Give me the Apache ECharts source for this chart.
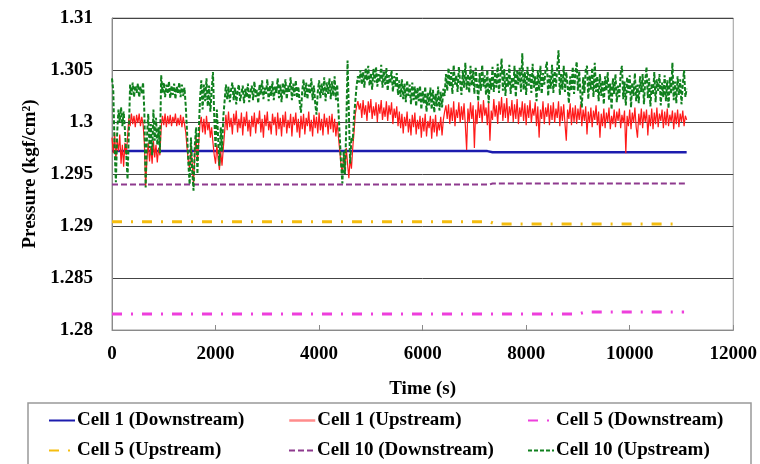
<!DOCTYPE html>
<html>
<head>
<meta charset="utf-8">
<script src="https://cdn.jsdelivr.net/npm/echarts@6/dist/echarts.min.js"></script>
<style>
  html, body { margin: 0; padding: 0; background: #fff; }
  #chart { width: 760px; height: 464px; }
</style>
</head>
<body>
<div id="chart"></div>
<script>
// noisy upstream readings, one sample every 25 s from t = 0 to 11100 s
const sampleStep = 25;

const cell10Up = [
  // 0 - 2175
  1.3042, 1.3030, 1.2975, 1.2942, 1.2990, 1.3012, 1.3000, 1.3014, 1.2996, 1.3010,
  1.2992, 1.2970, 1.2945, 1.2990, 1.3036, 1.3026, 1.3038, 1.3024, 1.3035, 1.3028,
  1.3037, 1.3024, 1.3034, 1.3027, 1.3038, 1.3010, 1.2937, 1.2985, 1.3008, 1.2975,
  1.2998, 1.2968, 1.3012, 1.2982, 1.3004, 1.2978, 1.2995, 1.2970, 1.3045, 1.3028,
  1.3038, 1.3024, 1.3036, 1.3027, 1.3039, 1.3023, 1.3035, 1.3026, 1.3037, 1.3022,
  1.3034, 1.3028, 1.3038, 1.3024, 1.3036, 1.3025, 1.3033, 1.3015, 1.2990, 1.2960,
  1.2940, 1.2985, 1.2952, 1.2934, 1.2978, 1.2995, 1.2950, 1.2990, 1.3022, 1.3040,
  1.3012, 1.3036, 1.3020, 1.3042, 1.3015, 1.3035, 1.3010, 1.3030, 1.3048, 1.3005,
  1.2975, 1.3012, 1.2985, 1.2958, 1.2995, 1.2972, 1.3005, 1.3020,
  // 2200 - 4400
  1.3036, 1.3022, 1.3034, 1.3019, 1.3031, 1.3038, 1.3021, 1.3033, 1.3017, 1.3030,
  1.3036, 1.3020, 1.3028, 1.3035, 1.3018, 1.3032, 1.3024, 1.3037, 1.3019, 1.3029,
  1.3035, 1.3021, 1.3039, 1.3024, 1.3031, 1.3018, 1.3036, 1.3026, 1.3040, 1.3022,
  1.3033, 1.3027, 1.3041, 1.3020, 1.3035, 1.3025, 1.3039, 1.3021, 1.3034, 1.3028,
  1.3042, 1.3023, 1.3036, 1.3019, 1.3038, 1.3026, 1.3041, 1.3022, 1.3035, 1.3029,
  1.3043, 1.3021, 1.3037, 1.3025, 1.3040, 1.3023, 1.3034, 1.3019, 1.3009, 1.3030,
  1.3041, 1.3024, 1.3038, 1.3022, 1.3036, 1.3027, 1.3042, 1.3021, 1.3035, 1.3018,
  1.3007, 1.3029, 1.3040, 1.3023, 1.3037, 1.3026, 1.3043, 1.3020, 1.3038, 1.3027,
  1.3042, 1.3022, 1.3039, 1.3025, 1.3044, 1.3021, 1.3036, 1.3010, 1.2985,
  // 4425 - 4775
  1.2960, 1.2941, 1.2972, 1.2950, 1.2995, 1.3059, 1.3010, 1.2960, 1.2985, 1.2982,
  1.3005, 1.3020, 1.3035, 1.3044, 1.3038,
  // 4800 - 5550
  1.3050, 1.3036, 1.3048, 1.3033, 1.3052, 1.3040, 1.3054, 1.3035, 1.3047, 1.3031,
  1.3051, 1.3038, 1.3053, 1.3034, 1.3046, 1.3039, 1.3055, 1.3033, 1.3049, 1.3036,
  1.3052, 1.3030, 1.3045, 1.3037, 1.3050, 1.3029, 1.3044, 1.3034, 1.3047, 1.3026,
  1.3040,
  // 5575 - 6450
  1.3024, 1.3041, 1.3022, 1.3037, 1.3019, 1.3040, 1.3025, 1.3036, 1.3017, 1.3038,
  1.3021, 1.3034, 1.3015, 1.3033, 1.3020, 1.3035, 1.3012, 1.3030, 1.3018, 1.3034,
  1.3010, 1.3028, 1.3016, 1.3033, 1.3012, 1.3031, 1.3009, 1.3027, 1.3015, 1.3034,
  1.3011, 1.3029, 1.3014, 1.3032, 1.3025, 1.3046,
  // 6475 - 9400
  1.3030, 1.3052, 1.3034, 1.3048, 1.3027, 1.3055, 1.3036, 1.3045, 1.3029, 1.3053,
  1.3038, 1.3026, 1.3050, 1.3033, 1.3057, 1.3031, 1.3046, 1.3028, 1.3054, 1.3035,
  1.3049, 1.3027, 1.3052, 1.3036, 1.3020, 1.3047, 1.3030, 1.3055, 1.3034, 1.3045,
  1.3026, 1.3050, 1.3018, 1.3042, 1.3031, 1.3053, 1.3029, 1.3048, 1.3033, 1.3056,
  1.3028, 1.3044, 1.3061, 1.3030, 1.3051, 1.3025, 1.3047, 1.3034, 1.3055, 1.3027,
  1.3043, 1.3032, 1.3054, 1.3024, 1.3049, 1.3036, 1.3052, 1.3029, 1.3066, 1.3031,
  1.3048, 1.3026, 1.3053, 1.3035, 1.3046, 1.3028, 1.3056, 1.3033, 1.3044, 1.3020,
  1.3050, 1.3030, 1.3054, 1.3027, 1.3047, 1.3036, 1.3051, 1.3058, 1.3025, 1.3045,
  1.3032, 1.3055, 1.3028, 1.3049, 1.3034, 1.3052, 1.3069, 1.3026, 1.3046, 1.3031,
  1.3054, 1.3029, 1.3048, 1.3035, 1.3018, 1.3044, 1.3030, 1.3053, 1.3027, 1.3046,
  1.3058, 1.3030, 1.3049, 1.3025, 1.3014, 1.3043, 1.3028, 1.3050, 1.3054, 1.3022,
  1.3045, 1.3031, 1.3052, 1.3024, 1.3057, 1.3029, 1.3044, 1.3020,
  // 9425 - 11100
  1.3046, 1.3025, 1.3040, 1.3017, 1.3044, 1.3030, 1.3048, 1.3021, 1.3037, 1.3012,
  1.3042, 1.3027, 1.3046, 1.3019, 1.3035, 1.3024, 1.3047, 1.3054, 1.3022, 1.3039,
  1.3016, 1.3043, 1.3028, 1.3045, 1.3014, 1.3038, 1.3025, 1.3047, 1.3020, 1.3036,
  1.3018, 1.3044, 1.3029, 1.3046, 1.3017, 1.3040, 1.3053, 1.3023, 1.3042, 1.3015,
  1.3037, 1.3026, 1.3048, 1.3019, 1.3041, 1.3030, 1.3046, 1.3016, 1.3038, 1.3024,
  1.3045, 1.3020, 1.3040, 1.3013, 1.3043, 1.3027, 1.3057, 1.3021, 1.3039, 1.3018,
  1.3044, 1.3026, 1.3041, 1.3017, 1.3036, 1.3050, 1.3024, 1.3032
];

const cell1Up = [
  // 0 - 2175
  1.2985, 1.2970, 1.2990, 1.2965, 1.2982, 1.2972, 1.2988, 1.2960, 1.2978, 1.2957,
  1.2980, 1.2968, 1.2985, 1.3004, 1.2996, 1.3008, 1.2998, 1.3006, 1.2995, 1.3007,
  1.2999, 1.3008, 1.2996, 1.3005, 1.2998, 1.2980, 1.2938, 1.2965, 1.2980, 1.2962,
  1.2976, 1.2960, 1.2982, 1.2966, 1.2978, 1.2961, 1.2975, 1.2968, 1.2995, 1.3006,
  1.2997, 1.3008, 1.2995, 1.3006, 1.2998, 1.3007, 1.2996, 1.3005, 1.2999, 1.3008,
  1.2996, 1.3004, 1.2997, 1.3007, 1.2995, 1.3005, 1.2998, 1.2990, 1.2975, 1.2962,
  1.2955, 1.2978, 1.2960, 1.2940, 1.2970, 1.2986, 1.2962, 1.2980, 1.2998, 1.3005,
  1.2990, 1.3003, 1.2988, 1.3006, 1.2992, 1.3000, 1.2985, 1.2995, 1.2980, 1.2968,
  1.2960, 1.2978, 1.2965, 1.2954, 1.2972, 1.2958, 1.2975, 1.2990,
  // 2200 - 4400
  1.3007, 1.2992, 1.3010, 1.2995, 1.3004, 1.2988, 1.3008, 1.2997, 1.3011, 1.2990,
  1.3003, 1.2994, 1.3009, 1.2987, 1.3005, 1.2996, 1.3010, 1.2991, 1.3002, 1.2986,
  1.3006, 1.2995, 1.3009, 1.2989, 1.3004, 1.2998, 1.3011, 1.2990, 1.3003, 1.2985,
  1.3007, 1.2996, 1.3010, 1.2992, 1.3001, 1.2988, 1.3008, 1.2997, 1.3005, 1.2987,
  1.3009, 1.2993, 1.3004, 1.2986, 1.3007, 1.2995, 1.3010, 1.2989, 1.3002, 1.2994,
  1.3008, 1.2986, 1.3005, 1.2997, 1.3009, 1.2990, 1.3003, 1.2985, 1.3006, 1.2993,
  1.3008, 1.2988, 1.3004, 1.2996, 1.3010, 1.2991, 1.3002, 1.2986, 1.3007, 1.2994,
  1.3005, 1.2989, 1.3009, 1.2992, 1.3003, 1.2987, 1.3008, 1.2995, 1.3004, 1.2988,
  1.3006, 1.2993, 1.3008, 1.2990, 1.3003, 1.2986, 1.3000, 1.2985, 1.2972,
  // 4425 - 4775
  1.2958, 1.2951, 1.2968, 1.2955, 1.2975, 1.2960, 1.2946, 1.2965, 1.2955, 1.2975,
  1.2990, 1.3008, 1.3015, 1.3020, 1.3012,
  // 4800 - 5550
  1.3018, 1.3004, 1.3021, 1.3007, 1.3016, 1.3001, 1.3020, 1.3009, 1.3022, 1.3003,
  1.3015, 1.3006, 1.3019, 1.3000, 1.3017, 1.3008, 1.3021, 1.3002, 1.3014, 1.3005,
  1.3020, 1.3001, 1.3016, 1.3007, 1.3019, 1.2998, 1.3013, 1.3004, 1.3015, 1.2996,
  1.3010,
  // 5575 - 6450
  1.2994, 1.3008, 1.2989, 1.3005, 1.2996, 1.3010, 1.2990, 1.3003, 1.2987, 1.3007,
  1.2995, 1.3009, 1.2988, 1.3002, 1.2993, 1.3006, 1.2985, 1.3004, 1.2991, 1.3008,
  1.2986, 1.3001, 1.2994, 1.3006, 1.2984, 1.3003, 1.2990, 1.3007, 1.2986, 1.3000,
  1.2992, 1.3005, 1.2987, 1.3002, 1.3010, 1.3016,
  // 6475 - 9400
  1.3003, 1.3017, 1.2998, 1.3014, 1.3001, 1.3020, 1.2996, 1.3012, 1.3004, 1.3019,
  1.2999, 1.3015, 1.3002, 1.3018, 1.2997, 1.2973, 1.3013, 1.3000, 1.3019, 1.3003,
  1.3016, 1.2975, 1.3012, 1.2998, 1.3020, 1.3004, 1.3017, 1.2999, 1.3021, 1.3006,
  1.3014, 1.2997, 1.3019, 1.2982, 1.3011, 1.3002, 1.3022, 1.3005, 1.3016, 1.2998,
  1.3020, 1.3007, 1.3024, 1.3001, 1.3018, 1.3004, 1.3023, 1.2999, 1.3015, 1.3006,
  1.3021, 1.3000, 1.3017, 1.3003, 1.3022, 1.2998, 1.3014, 1.3005, 1.3020, 1.3001,
  1.3018, 1.2997, 1.3016, 1.3004, 1.3021, 1.2999, 1.3013, 1.3006, 1.3019, 1.2996,
  1.3015, 1.2985, 1.3012, 1.3003, 1.3020, 1.2998, 1.3014, 1.3005, 1.3018, 1.2997,
  1.3016, 1.3002, 1.3019, 1.2999, 1.3013, 1.3004, 1.3020, 1.2996, 1.3015, 1.3001,
  1.3017, 1.2998, 1.2982, 1.3012, 1.3003, 1.3018, 1.2997, 1.3014, 1.3000, 1.3016,
  1.2998, 1.3013, 1.3002, 1.3017, 1.2996, 1.3012, 1.3001, 1.3015, 1.2988, 1.3010,
  1.2999, 1.3014, 1.2995, 1.3011, 1.3002, 1.3016, 1.2997, 1.3010,
  // 9425 - 11100
  1.2985, 1.3008, 1.2996, 1.3013, 1.2994, 1.3009, 1.3000, 1.3014, 1.2993, 1.3006,
  1.2998, 1.3012, 1.2995, 1.3010, 1.3001, 1.3013, 1.2994, 1.3007, 1.2999, 1.3011,
  1.2970, 1.3006, 1.2996, 1.3012, 1.2993, 1.3009, 1.2999, 1.3014, 1.2995, 1.2985,
  1.3008, 1.2997, 1.3013, 1.2994, 1.3010, 1.3000, 1.3012, 1.2987, 1.3007, 1.2996,
  1.3013, 1.2993, 1.3009, 1.2998, 1.3014, 1.2995, 1.3008, 1.3001, 1.3012, 1.2994,
  1.3010, 1.2997, 1.3013, 1.2996, 1.3007, 1.3000, 1.3011, 1.2993, 1.3009, 1.2998,
  1.3012, 1.2995, 1.3008, 1.3000, 1.3011, 1.2996, 1.3006, 1.3002
];

// steady readings: time breakpoints and values
const cell1DownT = [0, 7250, 7350, 11100];
const cell1DownV = [1.2972, 1.2972, 1.2971, 1.2971];
const cell5DownT = [0, 9000, 9150, 11050];
const cell5DownV = [1.28154, 1.28154, 1.28173, 1.28173];
const cell5UpT = [0, 7300, 7400, 10960];
const cell5UpV = [1.2904, 1.2904, 1.2902, 1.2902];
const cell10DownT = [0, 7300, 7350, 11100];
const cell10DownV = [1.2940, 1.2940, 1.29408, 1.29408];

const seriesNames = [
  "Cell 1 (Downstream)", "Cell 1 (Upstream)", "Cell 5 (Downstream)",
  "Cell 5 (Upstream)", "Cell 10 (Downstream)", "Cell 10 (Upstream)"
];

const xTicks = [0, 12000, 2000];
const yTicks = [1.28, 1.31, 0.005];

const font = "Liberation Serif";
const fs = 19;

function pairs(ts, vs) {
  return ts.map((t, i) => [t, vs[i]]);
}
function sampled(vs) {
  return vs.map((v, i) => [i * sampleStep, v]);
}

function line(name, data, color, width, type) {
  return {
    name: name,
    type: "line",
    data: data,
    symbol: "none",
    animation: false,
    lineStyle: { color: color, width: width, type: type },
    itemStyle: { color: color }
  };
}

const legendPos = [
  [48, 411], [288, 411], [527, 411],
  [48, 441], [288, 441], [527, 441]
];

const textBase = { fontFamily: font, fontWeight: "bold", fontSize: fs, color: "#000" };

const option = {
  backgroundColor: "#fff",
  grid: {
    left: 112, right: 26, top: 18, bottom: 134,
    show: true, borderColor: "#9a9a9a", borderWidth: 1
  },
  xAxis: {
    type: "value",
    min: xTicks[0], max: xTicks[1], interval: xTicks[2],
    name: "Time (s)",
    nameLocation: "middle",
    nameGap: 50,
    nameTextStyle: textBase,
    axisLine: { lineStyle: { color: "#8a8a8a" } },
    axisTick: { inside: true, length: 5, lineStyle: { color: "#8a8a8a" } },
    axisLabel: Object.assign({ margin: 15, formatter: (v) => String(v) }, textBase),
    splitLine: { show: false }
  },
  yAxis: {
    type: "value",
    min: yTicks[0], max: yTicks[1], interval: yTicks[2],
    name: "Pressure (kgf/cm²)",
    nameLocation: "middle",
    nameGap: 72,
    nameTextStyle: textBase,
    axisLine: { show: true, lineStyle: { color: "#8a8a8a" } },
    axisTick: { show: false },
    axisLabel: Object.assign({ margin: 19 }, textBase),
    splitLine: { lineStyle: { color: "#444", width: 1 } }
  },
  legend: seriesNames.map((n, i) => ({
    data: [n],
    left: legendPos[i][0],
    top: legendPos[i][1],
    padding: 0,
    itemWidth: 26,
    itemHeight: 14,
    itemGap: 2,
    selectedMode: false,
    itemStyle: { opacity: 0 },
    lineStyle: i === 1 ? { width: 2.5, opacity: 0.5 } : {},
    textStyle: Object.assign({ padding: [0, 0, 0, -3] }, textBase)
  })),
  graphic: [{
    type: "rect",
    shape: { x: 28, y: 403, width: 723, height: 80 },
    style: { fill: "none", stroke: "#999", lineWidth: 1.5 },
    silent: true
  }],
  series: [
    line(seriesNames[0], pairs(cell1DownT, cell1DownV), "#1c1cae", 2.5, "solid"),
    line(seriesNames[1], sampled(cell1Up), "#ff1a1a", 1.2, "solid"),
    line(seriesNames[2], pairs(cell5DownT, cell5DownV), "#ee3fdc", 3, [10, 9, 2, 9]),
    line(seriesNames[3], pairs(cell5UpT, cell5UpV), "#f5bd10", 3, [10, 9, 2, 9]),
    line(seriesNames[4], pairs(cell10DownT, cell10DownV), "#8e3a8e", 2, [6, 3]),
    line(seriesNames[5], sampled(cell10Up), "#10801e", 2, [4, 2])
  ]
};

const chart = echarts.init(document.getElementById("chart"), null, { renderer: "canvas" });
chart.setOption(option);
</script>
</body>
</html>
